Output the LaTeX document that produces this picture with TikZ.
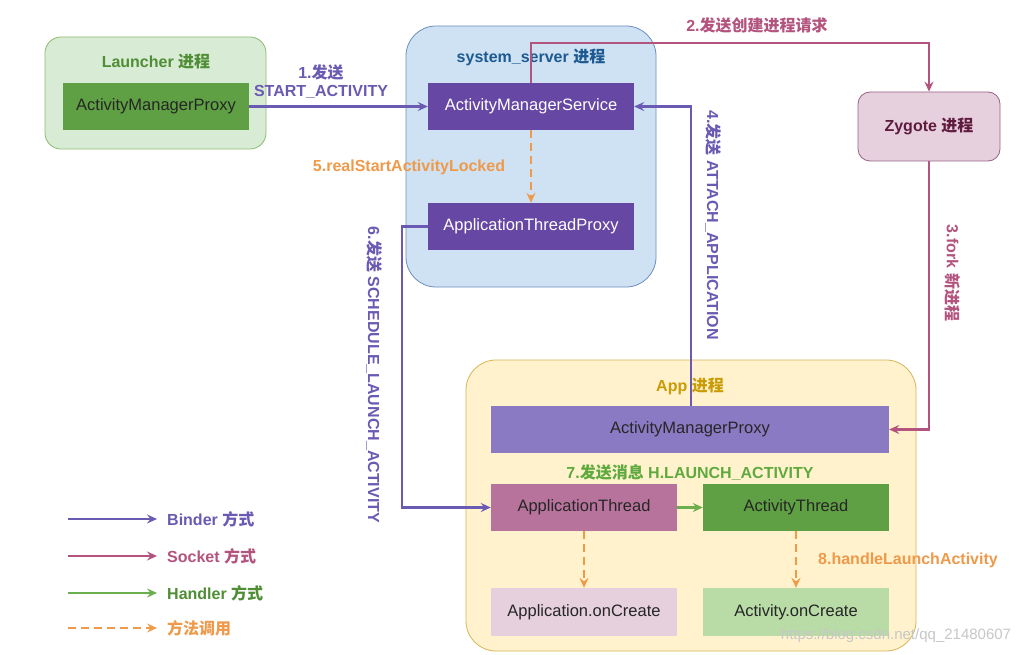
\documentclass[tikz,border=0pt]{standalone}
\usepackage{fontspec}
\setmainfont{Liberation Sans}
\newfontfamily\cjk{Noto Sans CJK SC}
\newcommand\zhtxt[1]{{\cjk #1}}
\usetikzlibrary{arrows.meta,positioning}
\definecolor{binderc}{HTML}{6B5AB3}
\definecolor{socketc}{HTML}{B3547E}
\definecolor{handlerc}{HTML}{6AAE4E}
\definecolor{callc}{HTML}{EE9A4A}
\definecolor{launchfill}{HTML}{D8EBD4}
\definecolor{launchdraw}{HTML}{8DBB72}
\definecolor{launchtitle}{HTML}{4F8E34}
\definecolor{greenbox}{HTML}{5EA043}
\definecolor{ssfill}{HTML}{CFE2F3}
\definecolor{ssdraw}{HTML}{6C8EBF}
\definecolor{sstitle}{HTML}{1D5A91}
\definecolor{purplebox}{HTML}{6647A4}
\definecolor{lpurplebox}{HTML}{8A7AC4}
\definecolor{pinkbox}{HTML}{B8739D}
\definecolor{lpinkbox}{HTML}{E6D0DE}
\definecolor{lgreenbox}{HTML}{B9DCA6}
\definecolor{appfill}{HTML}{FFF2CC}
\definecolor{appdraw}{HTML}{D6B656}
\definecolor{apptitle}{HTML}{C99B05}
\definecolor{zygfill}{HTML}{E6D0DE}
\definecolor{zygdraw}{HTML}{996185}
\definecolor{zygtext}{HTML}{5E1B3E}
\definecolor{labgreen}{HTML}{5FAA3F}
\tikzset{
  txt/.style={font=\fontsize{16.5}{19}\selectfont},
  btxt/.style={font=\fontsize{16}{19}\selectfont\bfseries},
  box/.style={rectangle, inner sep=0pt, minimum width=186pt, minimum height=47pt, txt, text=black!85},
  container/.style={rectangle, rounded corners=#1, line width=0.8pt, inner sep=0pt},
  tip/.style={-{Stealth[length=10pt,width=9pt,inset=3.5pt]}},
  conn/.style={line width=2.1pt, tip},
  binder/.style={conn, draw=binderc},
  socket/.style={conn, draw=socketc},
  handler/.style={conn, draw=handlerc},
  call/.style={conn, draw=callc, dash pattern=on 8pt off 5pt},
  lab/.style={btxt, inner sep=1pt},
}
\begin{document}
\begin{tikzpicture}[x=1pt,y=-1pt]
\useasboundingbox[fill=white] (0,0) rectangle (1028,655);

% containers
\node[container=16pt, fill=launchfill, draw=launchdraw, minimum width=221pt, minimum height=112pt] (launcher) at (155.5,93) {};
\node[container=30pt, fill=ssfill, draw=ssdraw, minimum width=250pt, minimum height=261pt] (ss) at (531,156.5) {};
\node[container=30pt, fill=appfill, draw=appdraw, minimum width=450pt, minimum height=291pt] (app) at (691,505.5) {};
\node[container=12pt, fill=zygfill, draw=zygdraw, minimum width=142pt, minimum height=69pt, btxt, text=zygtext] (zyg) at (929,126.5) {Zygote \zhtxt{进程}};

% titles
\node[btxt, text=launchtitle] (tl) at (156,62) {Launcher \zhtxt{进程}};
\node[btxt, text=sstitle] (ts) at (531,57) {system\_server \zhtxt{进程}};
\node[btxt, text=apptitle] (ta) at (690,386) {App \zhtxt{进程}};

% boxes
\node[box, fill=greenbox] (lamp) at (156,106.5) {ActivityManagerProxy};
\node[box, fill=purplebox, minimum width=206pt, text=white] (ams) at (531,106.5) {ActivityManagerService};
\node[box, fill=purplebox, minimum width=206pt, text=white] (atp) at (531,226.5) {ApplicationThreadProxy};
\node[box, fill=lpurplebox, minimum width=398pt] (aamp) at (690,429.5) {ActivityManagerProxy};
\node[box, fill=pinkbox] (athr) at (584,507.5) {ApplicationThread};
\node[box, fill=greenbox] (acth) at (796,507.5) {ActivityThread};
\node[box, fill=lpinkbox, minimum height=48pt] (aonc) at (584,612) {Application.onCreate};
\node[box, fill=lgreenbox, minimum height=48pt] (conc) at (796,612) {Activity.onCreate};

% helper coordinates
\coordinate (top2) at (0,43);
\coordinate (left6) at (402,0);
\coordinate (up4) at (691,0);

% connectors
\draw[binder] (lamp.east) -- (ams.west);
\draw[socket] (ams.north) -- (ams.north |- top2) -- (zyg.north |- top2) -- (zyg.north);
\draw[socket] (zyg.south) |- (aamp.east);
\draw[binder] (aamp.north -| up4) -- (up4 |- ams.east) -- (ams.east);
\draw[call] (ams.south) -- (atp.north);
\draw[binder] (atp.west) -- (atp.west -| left6) |- (athr.west);
\draw[handler] (athr.east) -- (acth.west);
\draw[call] (athr.south) -- (aonc.north);
\draw[call] (acth.south) -- (conc.north);

% labels
\node[lab, text=binderc, align=center] (l1) at (321,81.5) {1.\zhtxt{发送}\\[-1pt]START\_ACTIVITY};
\node[lab, text=socketc] (l2) at (757,25) {2.\zhtxt{发送创建进程请求}};
\node[lab, text=socketc, rotate=-90] (l3) at (953,273) {3.fork \zhtxt{新进程}};
\node[lab, text=binderc, rotate=-90] (l4) at (713,225) {4.\zhtxt{发送} ATTACH\_APPLICATION};
\node[lab, text=callc] (l5) at (409,167) {5.realStartActivityLocked};
\node[lab, text=binderc, rotate=-90] (l6) at (374,375) {6.\zhtxt{发送} SCHEDULE\_LAUNCH\_ACTIVITY};
\node[lab, text=labgreen] (l7) at (690,473) {7.\zhtxt{发送消息} H.LAUNCH\_ACTIVITY};
\node[lab, text=callc] (l8) at (908,560) {8.handleLaunchActivity};

% watermark
\node[txt, text=black!22, font=\fontsize{15}{18}\selectfont] (wm) at (896,636) {https://blog.csdn.net/qq\_21480607};

% legend
\coordinate (g1a) at (68,519); \coordinate (g1b) at (157,519);
\coordinate (g2a) at (68,556); \coordinate (g2b) at (157,556);
\coordinate (g3a) at (68,593); \coordinate (g3b) at (157,593);
\coordinate (g4a) at (68,628); \coordinate (g4b) at (157,628);
\draw[binder, line width=1.6pt] (g1a) -- (g1b);
\draw[socket, line width=1.6pt] (g2a) -- (g2b);
\draw[handler, line width=1.6pt] (g3a) -- (g3b);
\draw[call, line width=1.6pt] (g4a) -- (g4b);
\node[lab, text=binderc, anchor=west] (n1) at (166,519) {Binder \zhtxt{方式}};
\node[lab, text=socketc, anchor=west] (n2) at (166,556) {Socket \zhtxt{方式}};
\node[lab, text=launchtitle, anchor=west] (n3) at (166,593) {Handler \zhtxt{方式}};
\node[lab, text=callc, anchor=west] (n4) at (166,628) {\zhtxt{方法调用}};
\end{tikzpicture}
\end{document}
